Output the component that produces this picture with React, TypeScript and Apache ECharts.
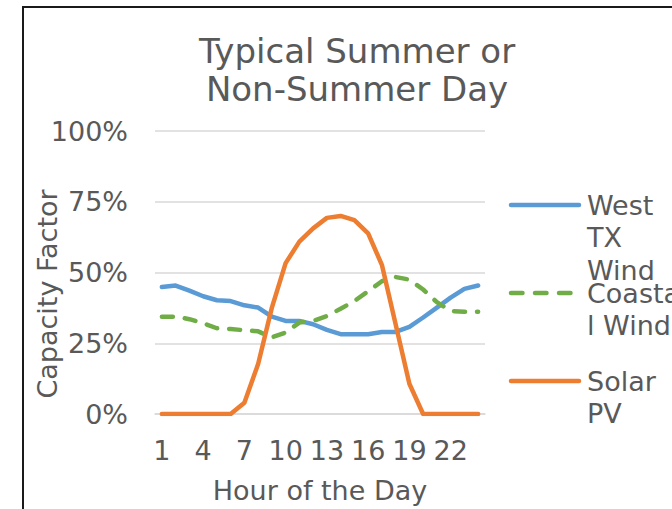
import React, { useEffect, useRef } from 'react';
import * as echarts from 'echarts';

const hours = ['1', '2', '3', '4', '5', '6', '7', '8', '9', '10', '11', '12', '13', '14', '15', '16', '17', '18', '19', '20', '21', '22', '23', '24'];

const westTX = [44.9, 45.4, 43.6, 41.6, 40.2, 39.9, 38.4, 37.6, 34.4, 32.9, 32.9, 31.7, 29.7, 28.2, 28.2, 28.2, 29.0, 29.0, 30.8, 34.1, 37.6, 41.1, 44.2, 45.4];
const coastal = [34.4, 34.4, 33.5, 32.1, 30.3, 30.0, 29.6, 29.2, 27.1, 28.8, 32.3, 32.9, 34.6, 37.2, 39.9, 43.4, 46.9, 48.4, 47.5, 44.0, 39.5, 36.4, 36.1, 36.1];
const solar = [0, 0, 0, 0, 0, 0, 4.0, 17.7, 37.6, 53.3, 60.9, 65.6, 69.3, 70.0, 68.5, 63.8, 52.7, 31.7, 10.7, 0, 0, 0, 0, 0];

const seriesNames = ['West TX Wind', 'Coastal Wind', 'Solar PV'];
const legendLabels = ['West\nTX\nWind', 'Coasta\nl Wind', 'Solar\nPV'];
const colors = ['#5B9BD5', '#70AD47', '#ED7D31'];
const yTicks = [0, 25, 50, 75, 100];

const FONT = '"DejaVu Sans", Verdana, sans-serif';
const TEXT = '#595959';

export default function App() {
  const ref = useRef<HTMLDivElement>(null);
  useEffect(() => {
    document.body.style.margin = '0';
    const chart = echarts.init(ref.current!, null, { renderer: 'svg' });
    const dataSets = [westTX, coastal, solar];
    const legendYs = [205, 293, 381];
    const legendGraphics: any[] = [];
    legendYs.forEach((ly, i) => {
      legendGraphics.push({
        type: 'line',
        shape: { x1: 511, y1: ly, x2: 579, y2: ly },
        style: {
          stroke: colors[i],
          lineWidth: 4.5,
          lineCap: 'round',
          lineDash: i === 1 ? [11.5, 12.5] : null,
        },
      });
      legendGraphics.push({
        type: 'text',
        x: 587,
        y: ly - 16,
        style: {
          text: legendLabels[i],
          fontSize: 27,
          fontFamily: FONT,
          fill: TEXT,
          lineHeight: 32.5,
          verticalAlign: 'top',
          align: 'left',
        },
      });
    });
    chart.setOption({
      animation: false,
      title: {
        text: 'Typical Summer or\nNon-Summer Day',
        left: 352,
        top: 27,
        textAlign: 'center',
        textStyle: {
          fontSize: 34,
          lineHeight: 38,
          fontWeight: 'normal',
          color: TEXT,
          fontFamily: FONT,
        },
      },
      grid: { left: 155, right: 187, top: 131, bottom: 91, containLabel: false },
      xAxis: {
        type: 'category',
        data: hours,
        boundaryGap: true,
        axisLine: { show: true, lineStyle: { color: '#D9D9D9', width: 1.5 } },
        axisTick: { show: false },
        axisLabel: {
          interval: 2,
          margin: 23,
          fontSize: 27,
          fontFamily: FONT,
          color: TEXT,
        },
        name: 'Hour of the Day',
        nameLocation: 'middle',
        nameGap: 63,
        nameTextStyle: { fontSize: 27, fontFamily: FONT, color: TEXT },
      },
      yAxis: {
        type: 'value',
        min: yTicks[0],
        max: yTicks[yTicks.length - 1],
        interval: 25,
        axisLine: { show: false },
        axisTick: { show: false },
        splitLine: { lineStyle: { color: '#D9D9D9', width: 1.5 } },
        axisLabel: {
          formatter: '{value}%',
          margin: 27,
          fontSize: 27,
          fontFamily: FONT,
          color: TEXT,
        },
      },
      series: dataSets.map((d, i) => ({
        name: seriesNames[i],
        type: 'line',
        data: d,
        symbol: 'none',
        smooth: false,
        lineStyle: {
          color: colors[i],
          width: 4.5,
          cap: 'round',
          join: 'round',
          type: i === 1 ? [11, 12] : 'solid',
        },
        itemStyle: { color: colors[i] },
      })),
      graphic: [
        {
          type: 'rect',
          shape: { x: 23, y: 7, width: 700, height: 600 },
          style: { fill: 'none', stroke: '#1a1a1a', lineWidth: 2 },
          silent: true,
        },
        {
          type: 'text',
          x: 47,
          y: 294,
          rotation: Math.PI / 2,
          style: {
            text: 'Capacity Factor',
            fontSize: 27,
            fontFamily: FONT,
            fill: TEXT,
            align: 'center',
            verticalAlign: 'middle',
          },
        },
        ...legendGraphics,
      ],
    });
    return () => chart.dispose();
  }, []);
  return <div ref={ref} style={{ width: 672, height: 509 }} />;
}
